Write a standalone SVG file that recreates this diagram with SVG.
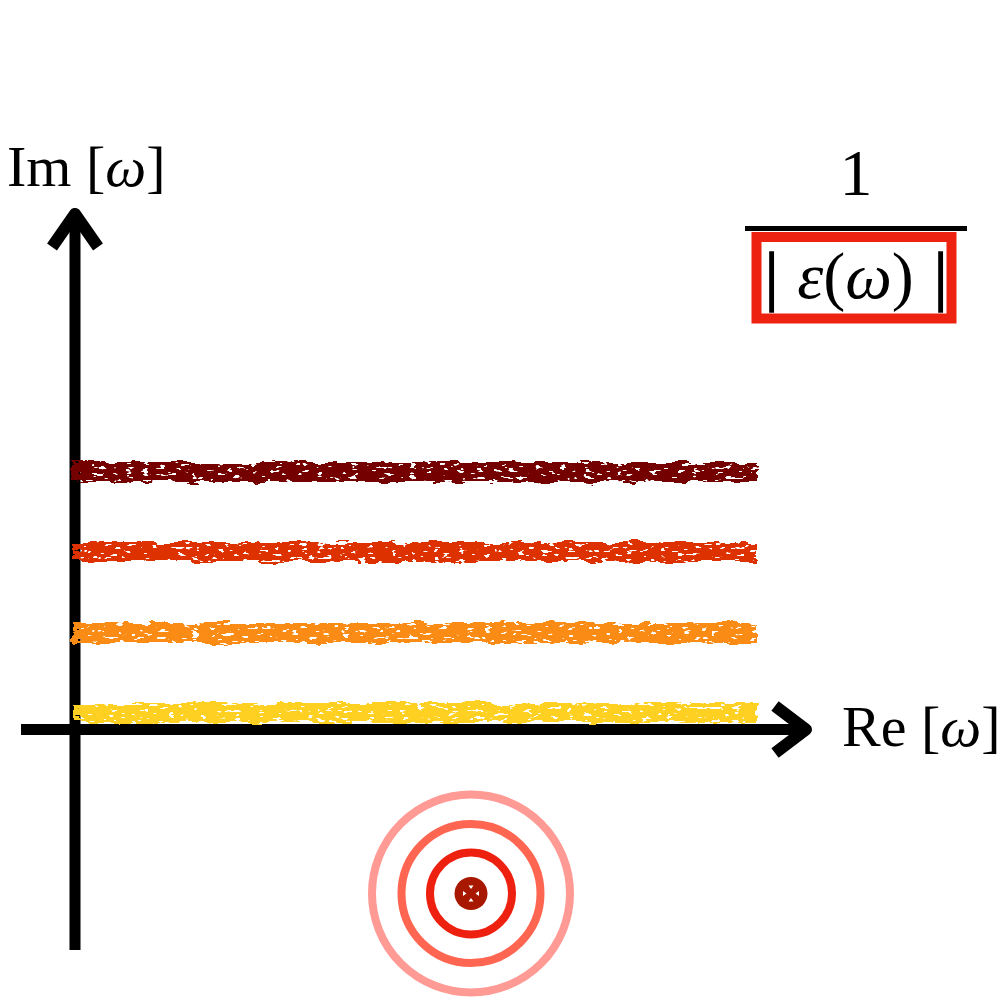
<svg xmlns="http://www.w3.org/2000/svg" width="1001" height="997" viewBox="0 0 1001 997">
  <style>
    .lbl { font-family: "Liberation Serif", "Times New Roman", serif; fill: #000; }
    .it { font-style: italic; }
    .bar { stroke: #000; stroke-width: 1.6; }
    .axis { stroke: #000; stroke-width: 11; fill: none; }
    .head { stroke: #000; stroke-width: 12; fill: none; stroke-linejoin: round; stroke-linecap: butt; }
    .ring { fill: none; stroke-width: 8; }
  </style>
  <defs>
    <filter id="chalk" x="-3%" y="-80%" width="106%" height="260%">
      <feTurbulence type="fractalNoise" baseFrequency="0.045 0.12" numOctaves="3" seed="4" result="n"/>
      <feDisplacementMap in="SourceGraphic" in2="n" scale="10" xChannelSelector="R" yChannelSelector="G" result="d"/>
      <feTurbulence type="fractalNoise" baseFrequency="0.12 0.3" numOctaves="2" seed="11" result="n2"/>
      <feColorMatrix in="n2" type="matrix" values="0 0 0 0 0  0 0 0 0 0  0 0 0 0 0  -30 0 0 0 20.5" result="m"/>
      <feComposite in="d" in2="m" operator="in"/>
    </filter>
  </defs>
  <rect width="1001" height="997" fill="#fff"/>

  <g id="connectors">
    <line class="axis" x1="75" y1="950" x2="75" y2="216"/>
    <path class="head" d="M52,247 L75,214 L98,247"/>
    <line class="axis" x1="21" y1="729.5" x2="806" y2="729.5"/>
    <path class="head" d="M775,706 L806,729.5 L775,753"/>
  </g>

  <g id="bands" filter="url(#chalk)">
    <rect x="72" y="462" width="685" height="20" fill="#740000"/>
    <rect x="72" y="542" width="685" height="20" fill="#DD3300"/>
    <rect x="72" y="623" width="685" height="20" fill="#FA8C12"/>
    <rect x="72" y="703" width="685" height="20" fill="#FDD020"/>
  </g>

  <g id="label-im">
    <text class="lbl" x="7" y="186" font-size="58">Im [<tspan class="it">ω</tspan>]</text>
  </g>
  <g id="label-re">
    <text class="lbl" x="842" y="746" font-size="58">Re [<tspan class="it">ω</tspan>]</text>
  </g>

  <g id="fraction">
    <text class="lbl" x="856" y="195" font-size="66" text-anchor="middle">1</text>
    <rect x="745" y="226" width="222" height="5" fill="#000"/>
    <rect x="756.5" y="237" width="195" height="81.5" fill="none" stroke="#EE2211" stroke-width="10"/>
    <text class="lbl bar" x="771.5" y="298" font-size="66" text-anchor="middle">|</text>
    <text class="lbl" x="855.5" y="298" font-size="66" text-anchor="middle"><tspan class="it">ε</tspan>(<tspan class="it">ω</tspan>)</text>
    <text class="lbl bar" x="940.5" y="298" font-size="66" text-anchor="middle">|</text>
  </g>

  <g id="pole">
    <circle class="ring" cx="471" cy="893.5" r="99" stroke="#FF9A95"/>
    <circle class="ring" cx="471" cy="893.5" r="69.5" stroke="#FF6652"/>
    <circle class="ring" cx="471" cy="893.5" r="41" stroke="#EE2010"/>
    <circle cx="471" cy="893.5" r="16.5" fill="#A81800"/>
    <g fill="#fff">
      <path d="M468.5,885.5 L473.5,885.5 L471,889 Z"/>
      <path d="M468.5,901.5 L473.5,901.5 L471,898 Z"/>
      <path d="M463,891 L463,896 L466.5,893.5 Z"/>
      <path d="M479,891 L479,896 L475.5,893.5 Z"/>
    </g>
  </g>
</svg>
